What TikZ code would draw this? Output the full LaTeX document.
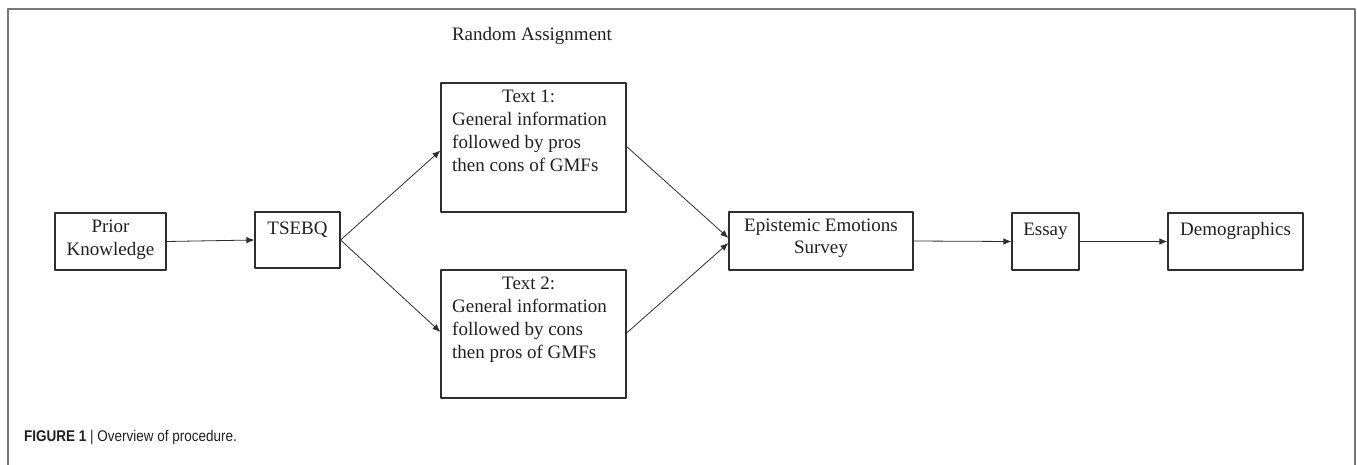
\documentclass[tikz,border=0pt]{standalone}
\usepackage{fontspec}
\setmainfont{Liberation Serif}
\newfontfamily\capfont[FakeStretch=0.87]{Liberation Sans}
\usetikzlibrary{positioning,arrows.meta}
\definecolor{inkgray}{HTML}{231F20}
\definecolor{framegray}{HTML}{767676}
\definecolor{linegray}{HTML}{2E2E2E}
\newcommand{\boxfont}{\fontsize{19}{23}\selectfont}
\tikzset{>={Latex[length=8pt,width=6.5pt]}}
\tikzset{
  stepbox/.style={draw=linegray, line width=1.2pt, rectangle, inner sep=0pt},
  boxtext/.style={anchor=north, inner sep=0pt, align=center, text=inkgray,
    font=\boxfont, execute at begin node=\strut},
  flow/.style={->, draw=linegray, line width=0.8pt}
}

\begin{document}
\begin{tikzpicture}[x=1pt, y=-1pt, line join = round]
    \useasboundingbox (0,0) rectangle (1357,465);
    \draw[framegray, line width=2pt] (7.5,466) -- (7.5,9) -- (1355,9) -- (1355,466);

    % boxes
    \node[stepbox, minimum width=111pt, minimum height=57pt] (prior) at (110.5,241.5) {};
    \node[stepbox, minimum width=85pt, minimum height=56pt] (tsebq) at (297.5,240) {};
    \node[stepbox, minimum width=185pt, minimum height=129pt] (text1) at (533.5,147.5) {};
    \node[stepbox, minimum width=185pt, minimum height=128pt] (text2) at (533.5,334) {};
    \node[stepbox, minimum width=184pt, minimum height=58pt] (epist) at (821,241) {};
    \node[stepbox, minimum width=67pt, minimum height=57pt] (essay) at (1045.5,241.5) {};
    \node[stepbox, minimum width=135pt, minimum height=57pt] (demo) at (1235.5,241.5) {};

    \node[boxtext, below=7pt of prior.north] (prior-txt) {Prior\\Knowledge};
    \node[boxtext, below=7pt of tsebq.north] (tsebq-txt) {TSEBQ};
    \node[boxtext, align=left, below=7pt of text1.north, xshift=-4pt] (text1-txt) {\hspace*{50pt}Text 1:\\General information\\followed by pros\\then cons of GMFs};
    \node[boxtext, align=left, below=7pt of text2.north, xshift=-4pt] (text2-txt) {\hspace*{50pt}Text 2:\\General information\\followed by cons\\then pros of GMFs};
    \node[boxtext, below=7pt of epist.north] (epist-txt) {Epistemic Emotions\\[-1pt]Survey};
    \node[boxtext, below=7pt of essay.north] (essay-txt) {Essay};
    \node[boxtext, below=7pt of demo.north] (demo-txt) {Demographics};

    \node[anchor=base, inner sep=0pt, text=inkgray, font=\boxfont] (assign) at (532,41) {Random Assignment};

    % arrows
    \draw[flow] (prior.east) -- (tsebq.west);
    \draw[flow] (tsebq.east) -- ([yshift=-3pt]text1.west);
    \draw[flow] (tsebq.east) -- ([yshift=2pt]text2.west);
    \draw[flow] ([yshift=1pt]text1.east) -- ([yshift=3pt]epist.west);
    \draw[flow] ([yshift=1pt]text2.east) -- ([yshift=-2pt]epist.west);
    \draw[flow] (epist.east) -- (essay.west);
    \draw[flow] (essay.east) -- (demo.west);

    \node[anchor=base west, inner sep=0pt, text=inkgray, font=\capfont\fontsize{15.5}{18}\selectfont] (caption) at (24,441) {\textbf{FIGURE 1} | Overview of procedure.};
\end{tikzpicture}
\end{document}
